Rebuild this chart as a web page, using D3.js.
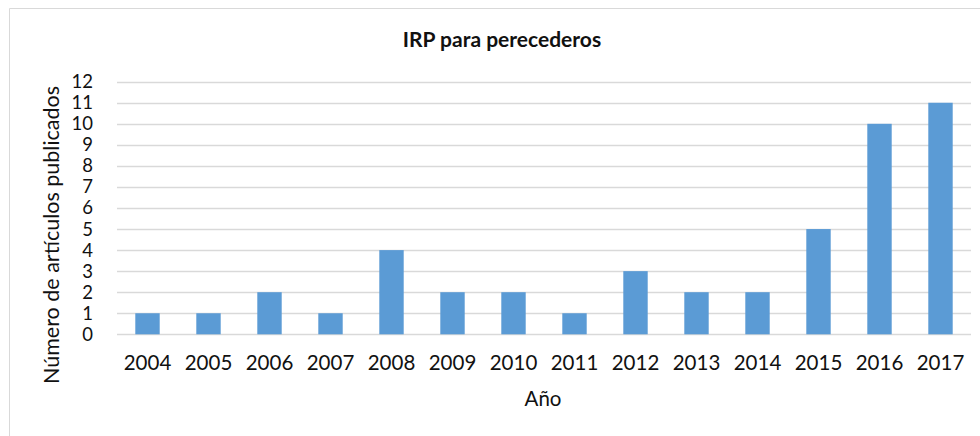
<!DOCTYPE html>
<html>
<head>
<meta charset="utf-8">
<script src="https://cdn.jsdelivr.net/npm/d3@7"></script>
<style>
  body { margin: 0; background: #fff; }
  text { font-family: Lato, "Open Sans", sans-serif; fill: #111; }
</style>
</head>
<body>
<script>
var years = ["2004", "2005", "2006", "2007", "2008", "2009", "2010", "2011", "2012", "2013", "2014", "2015", "2016", "2017"];
var counts = [1, 1, 2, 1, 4, 2, 2, 1, 3, 2, 2, 5, 10, 11];
var yTicks = [0, 1, 2, 3, 4, 5, 6, 7, 8, 9, 10, 11, 12];

var W = 980, H = 436;
var plot = {left: 117, right: 971, top: 81.7, bottom: 334.3};

var svg = d3.select("body").append("svg")
  .attr("width", W)
  .attr("height", H);

// frame, only left and top edges show in the picture
svg.append("path")
  .attr("d", "M9.5," + H + "V8.5H" + W)
  .attr("fill", "none")
  .attr("stroke", "#d9d9d9")
  .attr("stroke-width", 1);

var x = d3.scaleBand().domain(years).range([plot.left, plot.right]);
var y = d3.scaleLinear().domain([0, 12]).range([plot.bottom, plot.top]);

// gridlines
svg.append("g").selectAll("line")
  .data(yTicks)
  .enter().append("line")
  .attr("x1", plot.left)
  .attr("x2", plot.right)
  .attr("y1", function (d) { return Math.round(y(d)) + 0.5; })
  .attr("y2", function (d) { return Math.round(y(d)) + 0.5; })
  .attr("stroke", "#d9d9d9")
  .attr("stroke-width", 1.3);

// bars
var barW = x.bandwidth() * 0.4;
svg.append("g").selectAll("rect")
  .data(counts)
  .enter().append("rect")
  .attr("x", function (d, i) { return x(years[i]) + (x.bandwidth() - barW) / 2; })
  .attr("y", function (d) { return y(d); })
  .attr("width", barW)
  .attr("height", function (d) { return y(0) - y(d); })
  .attr("fill", "#5b9bd5");

// y tick labels (tightly packed like the original)
svg.append("g").selectAll("text")
  .data(yTicks)
  .enter().append("text")
  .attr("x", 93)
  .attr("y", function (d) { return y(d); })
  .attr("dy", "0.35em")
  .attr("text-anchor", "end")
  .style("font-size", "18.5px")
  .text(function (d) { return d; });

// x tick labels
svg.append("g").selectAll("text")
  .data(years)
  .enter().append("text")
  .attr("x", function (d) { return x(d) + x.bandwidth() / 2; })
  .attr("y", 370)
  .attr("text-anchor", "middle")
  .style("font-size", "20.5px")
  .text(function (d) { return d; });

// title
svg.append("text")
  .attr("x", 502)
  .attr("y", 47)
  .attr("text-anchor", "middle")
  .style("font-size", "21px")
  .style("font-weight", "bold")
  .text("IRP para perecederos");

// axis titles
svg.append("text")
  .attr("x", 543)
  .attr("y", 406)
  .attr("text-anchor", "middle")
  .style("font-size", "20.5px")
  .text("Año");

svg.append("text")
  .attr("transform", "translate(59,235) rotate(-90)")
  .attr("text-anchor", "middle")
  .style("font-size", "21.5px")
  .text("Número de artículos publicados");
</script>
</body>
</html>
